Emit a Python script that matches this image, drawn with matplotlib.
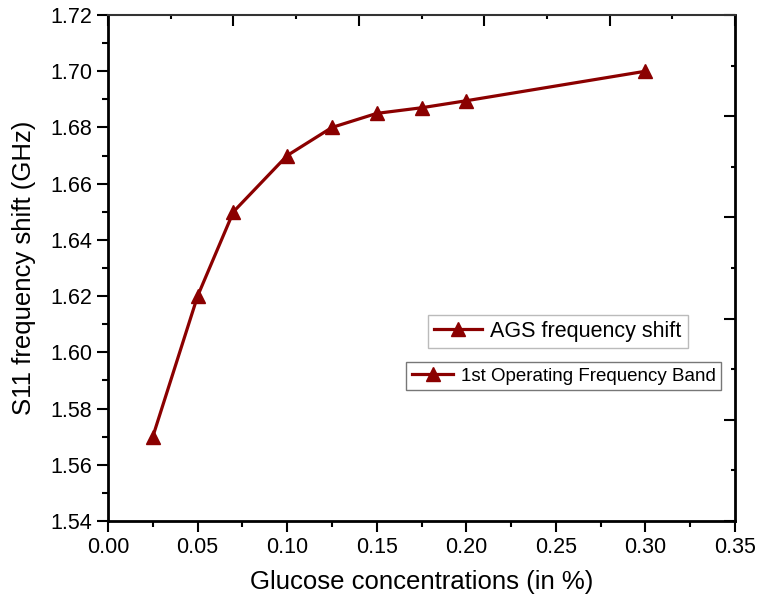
import matplotlib.pyplot as plt
from matplotlib.ticker import MultipleLocator

plt.rcParams['font.family'] = ['Liberation Sans', 'DejaVu Sans']

conc = [0.025, 0.05, 0.07, 0.10, 0.125, 0.15, 0.175, 0.20, 0.30]
shift = [1.570, 1.620, 1.650, 1.670, 1.680, 1.685, 1.687, 1.6895, 1.700]
line_color = '#8b0000'

fig = plt.figure(figsize=(7.57, 6), dpi=100)
ax = fig.add_axes([0.1427, 0.1317, 0.8283, 0.8433])

ax.plot(conc, shift, color=line_color, lw=2.3, marker='^', markersize=10, zorder=3)

ax.set_xlim(0, 0.35)
ax.set_ylim(1.54, 1.72)
ax.xaxis.set_major_locator(MultipleLocator(0.05))
ax.xaxis.set_minor_locator(MultipleLocator(0.025))
ax.yaxis.set_major_locator(MultipleLocator(0.02))
ax.yaxis.set_minor_locator(MultipleLocator(0.01))
ax.xaxis.set_major_formatter(lambda v, p: '%.2f' % v)
ax.yaxis.set_major_formatter(lambda v, p: '%.2f' % v)

ax.tick_params(which='both', direction='out', width=1.5, labelsize=15.5,
               colors='black')
ax.tick_params(which='major', length=8)
ax.tick_params(which='minor', length=4)
for side in ['left', 'bottom', 'right']:
    ax.spines[side].set_linewidth(2)
ax.spines['top'].set_color('#333333')
ax.spines['top'].set_linewidth(1.5)

# top/right frame ticks (5 divisions, inward)
ax2 = ax.secondary_xaxis('top', functions=(lambda x: x / 0.35, lambda x: x * 0.35))
ax2.xaxis.set_major_locator(MultipleLocator(0.2))
ax2.xaxis.set_minor_locator(MultipleLocator(0.1))
ax2.tick_params(which='both', direction='in', width=1.5, labeltop=False)
ax2.tick_params(which='major', length=8)
ax2.tick_params(which='minor', length=3)
ax2.spines['top'].set_visible(False)
ay2 = ax.secondary_yaxis('right', functions=(lambda y: (y - 1.54) / 0.18,
                                             lambda y: y * 0.18 + 1.54))
ay2.yaxis.set_major_locator(MultipleLocator(0.2))
ay2.yaxis.set_minor_locator(MultipleLocator(0.1))
ay2.tick_params(which='both', direction='in', width=1.5, labelright=False)
ay2.tick_params(which='major', length=8)
ay2.tick_params(which='minor', length=3)
ay2.spines['right'].set_visible(False)

ax.set_xlabel('Glucose concentrations (in %)', fontsize=18.5, labelpad=9)
ax.set_ylabel('S11 frequency shift (GHz)', fontsize=18.5, labelpad=10)

h1, = ax.plot([], [], color=line_color, lw=2.3, marker='^', markersize=10)
leg1 = ax.legend([h1], ['AGS frequency shift'], loc='upper left',
                 bbox_to_anchor=(0.51, 0.408), fontsize=15.5, frameon=True,
                 fancybox=False, edgecolor='#aaaaaa', handlelength=2.2,
                 borderpad=0.3, handletextpad=0.4, borderaxespad=0)
ax.add_artist(leg1)
ax.legend([h1], ['1st Operating Frequency Band'], loc='upper left',
          bbox_to_anchor=(0.476, 0.314), fontsize=13.5, frameon=True,
          fancybox=False, edgecolor='#555555', handlelength=2.2,
          borderpad=0.3, handletextpad=0.4, borderaxespad=0)

fig.savefig('out.png', dpi=100)
